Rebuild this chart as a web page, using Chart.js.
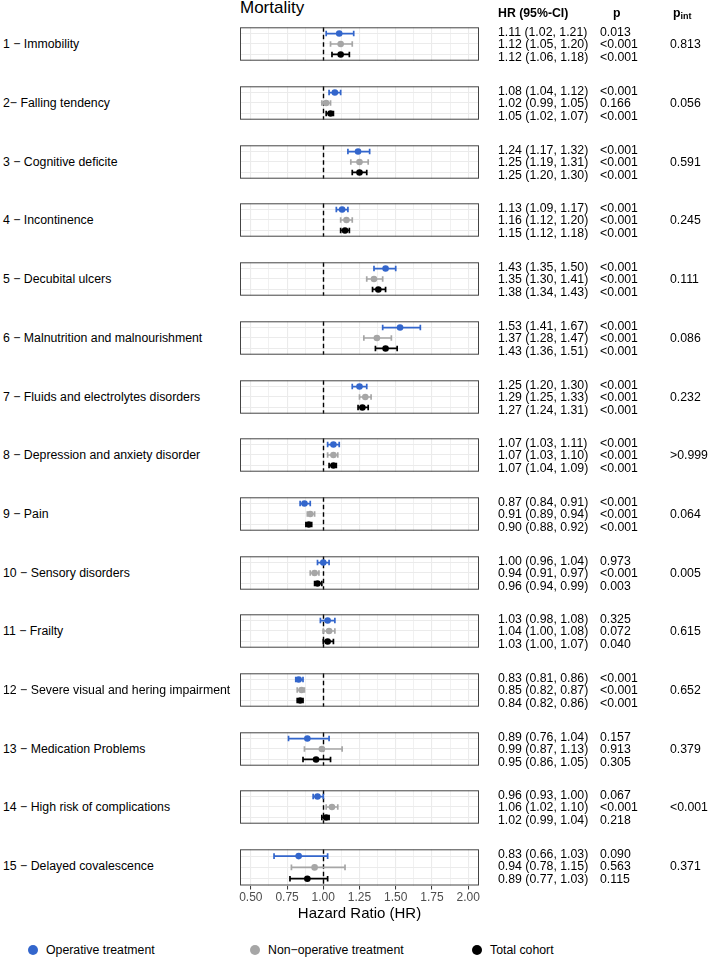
<!DOCTYPE html>
<html><head><meta charset="utf-8">
<script src="https://cdn.jsdelivr.net/npm/chart.js@4.4.1/dist/chart.umd.min.js"></script>
<style>
html,body{margin:0;padding:0;background:#fff;}
body{width:708px;height:957px;position:relative;overflow:hidden;font-family:"Liberation Sans",Arial,sans-serif;color:#000;}
.t{position:absolute;white-space:nowrap;font-size:12.3px;line-height:14px;height:14px;}
canvas{position:absolute;}
.dot{position:absolute;width:10px;height:10px;border-radius:50%;}
</style></head><body>
<script>
// ---------------- data ----------------
const categories = [
  "1 − Immobility",
  "2− Falling tendency",
  "3 − Cognitive deficite",
  "4 − Incontinence",
  "5 − Decubital ulcers",
  "6 − Malnutrition and malnourishment",
  "7 − Fluids and electrolytes disorders",
  "8 − Depression and anxiety disorder",
  "9 − Pain",
  "10 − Sensory disorders",
  "11 − Frailty",
  "12 − Severe visual and hering impairment",
  "13 − Medication Problems",
  "14 − High risk of complications",
  "15 − Delayed covalescence"
];
const opHR  = [1.11,1.08,1.24,1.13,1.43,1.53,1.25,1.07,0.87,1.00,1.03,0.83,0.89,0.96,0.83];
const opLo  = [1.02,1.04,1.17,1.09,1.35,1.41,1.20,1.03,0.84,0.96,0.98,0.81,0.76,0.93,0.66];
const opHi  = [1.21,1.12,1.32,1.17,1.50,1.67,1.30,1.11,0.91,1.04,1.08,0.86,1.04,1.00,1.03];
const opP   = ['0.013','<0.001','<0.001','<0.001','<0.001','<0.001','<0.001','<0.001','<0.001','0.973','0.325','<0.001','0.157','0.067','0.090'];

const nonHR = [1.12,1.02,1.25,1.16,1.35,1.37,1.29,1.07,0.91,0.94,1.04,0.85,0.99,1.06,0.94];
const nonLo = [1.05,0.99,1.19,1.12,1.30,1.28,1.25,1.03,0.89,0.91,1.00,0.82,0.87,1.02,0.78];
const nonHi = [1.20,1.05,1.31,1.20,1.41,1.47,1.33,1.10,0.94,0.97,1.08,0.87,1.13,1.10,1.15];
const nonP  = ['<0.001','0.166','<0.001','<0.001','<0.001','<0.001','<0.001','<0.001','<0.001','<0.001','0.072','<0.001','0.913','<0.001','0.563'];

const totHR = [1.12,1.05,1.25,1.15,1.38,1.43,1.27,1.07,0.90,0.96,1.03,0.84,0.95,1.02,0.89];
const totLo = [1.06,1.02,1.20,1.12,1.34,1.36,1.24,1.04,0.88,0.94,1.00,0.82,0.86,0.99,0.77];
const totHi = [1.18,1.07,1.30,1.18,1.43,1.51,1.31,1.09,0.92,0.99,1.07,0.86,1.05,1.04,1.03];
const totP  = ['<0.001','<0.001','<0.001','<0.001','<0.001','<0.001','<0.001','<0.001','<0.001','0.003','0.040','<0.001','0.305','0.218','0.115'];

const pInt  = ['0.813','0.056','0.591','0.245','0.111','0.086','0.232','>0.999','0.064','0.005','0.615','0.652','0.379','<0.001','0.371'];

const tickValues = [0.5,0.625,0.75,0.875,1.0,1.125,1.25,1.375,1.5,1.625,1.75,1.875,2.0];
const tickLabels = ['0.50','','0.75','','1.00','','1.25','','1.50','','1.75','','2.00'];
const seriesNames  = ['Operative treatment','Non−operative treatment','Total cohort'];
const seriesColors = ['#3366CC','#A6A6A6','#000000'];
const refValue = 1;

// ---------------- layout ----------------
const FONT = '"Liberation Sans", Arial, sans-serif';
const PANEL_TOP0 = 24.3, PERIOD = 58.7, PANEL_H = 40;
const PANEL_LEFT = 240, PANEL_W = 239, PADX = 20;
const Y_MIN = 0.4, Y_MAX = 3.6;

function addText(txt, left, cy, opts = {}) {
  const d = document.createElement('div');
  d.className = 't';
  d.textContent = txt;
  d.style.left = left + 'px';
  d.style.top = (cy - 7) + 'px';
  if (opts.bold) d.style.fontWeight = 'bold';
  if (opts.size) d.style.fontSize = opts.size + 'px';
  document.body.appendChild(d);
  return d;
}
const fmt = v => v.toFixed(2);

const forestPlugin = {
  id: 'forest',
  beforeDatasetsDraw(chart) {
    const { ctx, chartArea: a, scales: { x } } = chart;
    const px = Math.round(x.getPixelForValue(refValue)) + 0.5;
    ctx.save();
    ctx.strokeStyle = '#000';
    ctx.lineWidth = 1.4;
    ctx.setLineDash([4.5, 3]);
    ctx.beginPath(); ctx.moveTo(px, a.top); ctx.lineTo(px, a.bottom); ctx.stroke();
    ctx.restore();
    chart.data.datasets.forEach((ds, di) => {
      const el = chart.getDatasetMeta(di).data[0];
      const y = el.y;
      const x1 = x.getPixelForValue(ds.lo), x2 = x.getPixelForValue(ds.hi);
      ctx.save();
      ctx.strokeStyle = ds.backgroundColor;
      ctx.lineWidth = 1.7;
      ctx.beginPath();
      ctx.moveTo(x1, y); ctx.lineTo(x2, y);
      ctx.moveTo(x1, y - 2.8); ctx.lineTo(x1, y + 2.8);
      ctx.moveTo(x2, y - 2.8); ctx.lineTo(x2, y + 2.8);
      ctx.stroke();
      ctx.restore();
    });
  },
  afterDraw(chart) {
    const { ctx, chartArea: a } = chart;
    ctx.save();
    ctx.strokeStyle = '#444';
    ctx.lineWidth = 1;
    ctx.strokeRect(a.left + 0.5, a.top + 0.5, a.right - a.left - 1, a.bottom - a.top - 1);
    ctx.restore();
  }
};

const isMajor = v => { const k = (v - 0.5) / 0.25; return Math.abs(k - Math.round(k)) < 1e-6; };

categories.forEach((cat, i) => {
  const top = Math.round(PANEL_TOP0 + PERIOD * i);
  const last = i === categories.length - 1;
  const cv = document.createElement('canvas');
  cv.width = PANEL_W + 2 * PADX;
  cv.height = last ? 79 : PANEL_H;
  cv.style.left = (PANEL_LEFT - PADX) + 'px';
  cv.style.top = top + 'px';
  document.body.appendChild(cv);

  const series = [
    { hr: opHR[i], lo: opLo[i], hi: opHi[i] },
    { hr: nonHR[i], lo: nonLo[i], hi: nonHi[i] },
    { hr: totHR[i], lo: totLo[i], hi: totHi[i] }
  ];
  new Chart(cv, {
    type: 'scatter',
    data: {
      datasets: series.map((s, k) => ({
        label: seriesNames[k],
        data: [{ x: s.hr, y: k + 1 }],
        lo: s.lo, hi: s.hi,
        backgroundColor: seriesColors[k],
        borderColor: seriesColors[k],
        borderWidth: 0,
        pointRadius: 3.3,
        pointHoverRadius: 3.3
      }))
    },
    options: {
      responsive: false,
      animation: false,
      devicePixelRatio: 1,
      events: [],
      layout: { padding: { left: PADX, right: PADX, top: 0, bottom: 0 } },
      plugins: { legend: { display: false }, tooltip: { enabled: false } },
      scales: {
        x: {
          type: 'linear', min: 0.425, max: 2.075,
          afterBuildTicks: s => { s.ticks = tickValues.map(v => ({ value: v })); },
          grid: {
            color: '#EBEBEB',
            lineWidth: c => (c.tick && isMajor(c.tick.value)) ? 1.1 : 0.7,
            drawTicks: last, tickLength: 4,
            tickColor: c => (c.tick && isMajor(c.tick.value)) ? '#333333' : 'rgba(0,0,0,0)',
            tickWidth: 1
          },
          border: { display: false },
          ticks: {
            display: last, autoSkip: false, maxRotation: 0, padding: 1,
            color: '#4D4D4D', font: { size: 12, family: FONT },
            callback: (v, idx) => tickLabels[idx]
          },
          title: {
            display: last, text: 'Hazard Ratio (HR)', color: '#000',
            font: { size: 15, family: FONT }, padding: { top: 0, bottom: 2 }
          }
        },
        y: {
          type: 'linear', min: Y_MIN, max: Y_MAX, reverse: true,
          afterBuildTicks: s => { s.ticks = [1, 2, 3].map(v => ({ value: v })); },
          grid: { color: '#EBEBEB', lineWidth: 1.1, drawTicks: false },
          border: { display: false },
          ticks: { display: false }
        }
      }
    },
    plugins: [forestPlugin]
  });

  // text
  const rowY = k => top + ((k + 1) - Y_MIN) / (Y_MAX - Y_MIN) * PANEL_H;
  addText(cat, 3, rowY(1));
  series.forEach((s, k) => {
    addText(`${fmt(s.hr)} (${fmt(s.lo)}, ${fmt(s.hi)})`, 498, rowY(k));
  });
  addText(opP[i], 600, rowY(0));
  addText(nonP[i], 600, rowY(1));
  addText(totP[i], 600, rowY(2));
  addText(pInt[i], 670, rowY(1));
});

// headers
const ttl = document.createElement('div');
ttl.className = 't';
ttl.textContent = 'Mortality';
ttl.style.cssText += 'left:240px;top:-1px;font-size:17px;line-height:17px;height:17px;';
document.body.appendChild(ttl);
addText('HR (95%-CI)', 498, 13.3, { bold: true });
addText('p', 613, 13.3, { bold: true });
const pi = addText('', 673, 13.3, { bold: true });
pi.innerHTML = 'p<span style="font-size:9px;position:relative;top:2px;font-weight:bold">int</span>';

// legend
const legendX = [33, 255, 477];
seriesNames.forEach((name, k) => {
  const cx = legendX[k];
  const d = document.createElement('div');
  d.className = 'dot';
  d.style.background = seriesColors[k];
  d.style.left = (cx - 5) + 'px';
  d.style.top = (950 - 5) + 'px';
  document.body.appendChild(d);
  addText(name, cx + 13, 950, { size: 12.3 });
});
</script>
</body></html>
